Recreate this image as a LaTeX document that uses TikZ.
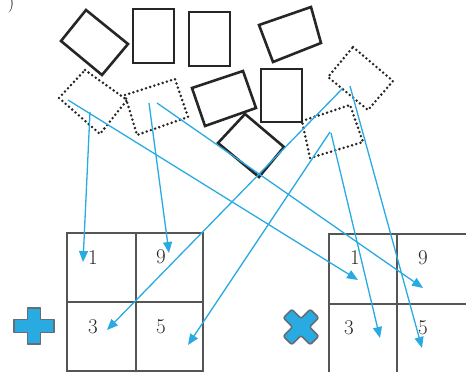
\documentclass[tikz,border=0pt]{standalone}
\usetikzlibrary{arrows.meta}
\definecolor{arrowblue}{RGB}{41,171,226}
\definecolor{gridgray}{RGB}{85,85,85}
\definecolor{iconedge}{RGB}{100,110,118}
\begin{document}
\begin{tikzpicture}[x=1pt,y=-1pt,
  solidshape/.style={draw=black!85,line width=2.6pt,line join=miter},
  dotshape/.style={draw=black!85,line width=2.8pt,line cap=round,dash pattern=on 0pt off 4.4pt},
  gridline/.style={draw=gridgray,line width=1.3pt},
  arr/.style={draw=arrowblue,line width=1.3pt,-{Triangle[length=11pt,width=9pt]}},
  num/.style={font=\fontsize{21}{21}\selectfont,text=black!85,inner sep=0pt},
  icon/.style={fill=arrowblue,draw=iconedge,line width=1.6pt,line join=round}]
\useasboundingbox (0,0) rectangle (466,372);
% partial label at top left
\node[font=\fontsize{18}{18}\selectfont,inner sep=0pt] (lbl) at (11,4) {)};
% solid shapes
\draw[solidshape] (86,10) -- (128,44) -- (102,75) -- (61,41) -- cycle;
\draw[solidshape] (133,9) rectangle (174,63);
\draw[solidshape] (189,12) rectangle (230,66);
\draw[solidshape] (259,25) -- (311,7) -- (321,43) -- (273,62) -- cycle;
\draw[solidshape] (192,88) -- (243,71) -- (256,108) -- (205,126) -- cycle;
\draw[solidshape] (261,69) rectangle (302,122);
\draw[solidshape] (245,114) -- (284,147) -- (259,177) -- (218,143) -- cycle;
% dotted shapes
\draw[dotshape] (85,70) -- (127,100) -- (100,134) -- (59,98) -- cycle;
\draw[dotshape] (125,95) -- (175,79) -- (188,117) -- (137,135) -- cycle;
\draw[dotshape] (353,47) -- (393,81) -- (368,110) -- (328,77) -- cycle;
\draw[dotshape] (302,121) -- (350,105) -- (363,142) -- (310,158) -- cycle;
% left grid
\draw[gridline] (67,233) rectangle (203,371);
\draw[gridline] (136,233) -- (136,371);
\draw[gridline] (67,302) -- (203,302);
% right grid
\draw[gridline] (329,372) -- (329,234) -- (466,234);
\draw[gridline] (397,234) -- (397,372);
\draw[gridline] (329,304) -- (466,304);
% numbers
\node[num] (L1) at (93,258) {1};
\node[num] (L9) at (161,257) {9};
\node[num] (L3) at (93,327) {3};
\node[num] (L5) at (161,327) {5};
\node[num] (R1) at (355,258) {1};
\node[num] (R9) at (423,258) {9};
\node[num] (R3) at (349,328) {3};
\node[num] (R5) at (423,328) {5};
% icons
\begin{scope}[shift={(34,326)}]
  \draw[icon] (-6.5,-18) -- (6.5,-18) -- (6.5,-6.5) -- (20,-6.5) -- (20,6.5) -- (6.5,6.5) -- (6.5,18) -- (-6.5,18) -- (-6.5,6.5) -- (-20,6.5) -- (-20,-6.5) -- (-6.5,-6.5) -- cycle;
\end{scope}
\begin{scope}[shift={(301,327)},rotate=45]
  \draw[icon,rounded corners=2pt] (-6,-19) -- (6,-19) -- (6,-6) -- (19,-6) -- (19,6) -- (6,6) -- (6,19) -- (-6,19) -- (-6,6) -- (-19,6) -- (-19,-6) -- (-6,-6) -- cycle;
\end{scope}
% arrow ends
\coordinate (s1) at (90,112);
\coordinate (t1) at (83,262);
\coordinate (s2) at (149,103);
\coordinate (t2) at (169,253);
\coordinate (s3) at (68,100);
\coordinate (t3) at (358,280);
\coordinate (s4) at (157,103);
\coordinate (t4) at (423,288);
\coordinate (s5) at (343,88);
\coordinate (t5) at (107,330);
\coordinate (s6) at (350,86);
\coordinate (t6) at (422,348);
\coordinate (s7) at (330,132);
\coordinate (t7) at (188,345);
\coordinate (s8) at (331,133);
\coordinate (t8) at (380,338);
\draw[arr] (s1) -- (t1);
\draw[arr] (s2) -- (t2);
\draw[arr] (s3) -- (t3);
\draw[arr] (s4) -- (t4);
\draw[arr] (s5) -- (t5);
\draw[arr] (s6) -- (t6);
\draw[arr] (s7) -- (t7);
\draw[arr] (s8) -- (t8);
\end{tikzpicture}
\end{document}
